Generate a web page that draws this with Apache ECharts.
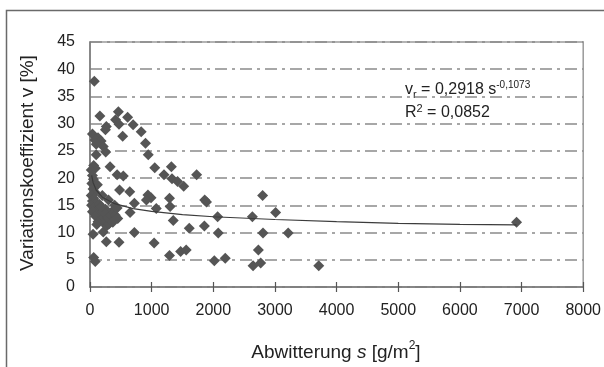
<!DOCTYPE html>
<html><head><meta charset="utf-8">
<script src="https://cdn.jsdelivr.net/npm/echarts/dist/echarts.min.js"></script>
<style>html,body{margin:0;padding:0;background:#fff}#c{width:604px;height:367px}</style>
</head><body><div id="c"></div>
<script>
// Abwitterung s [g/m2] (x) and Variationskoeffizient v [%] (y)
const abwitterung = [
  70,160,460,610,415,470,265,250,700,830,40,130,80,180,100,530,900,215,100,255,945,
  60,86,325,1050,1320,440,540,1200,1330,1420,1730,1520,480,645,940,990,915,1290,1300,
  1860,1890,2800,720,650,1075,1350,1610,1855,2070,2080,2634,3011,2806,3215,2731,2645,
  2769,3710,6919,2016,2194,1290,1470,1560,1040,470,265,215,50,720,60,85,
  20,40,55,30,120,50,80,20,60,40,100,25,70,120,40,160,90,190,130,230,270,310,350,280,
  320,370,410,450,400,440,250,200,300,150,110,370,220,180
];
const variationskoeffizient = [
  37.8,31.4,32.2,31.2,30.7,29.9,29.5,28.9,29.8,28.5,28.1,27.4,27.0,26.8,26.2,27.7,26.4,25.8,24.3,24.8,24.3,
  22.3,21.8,22.1,21.9,22.1,20.6,20.4,20.6,19.9,19.4,20.6,18.5,17.8,17.5,16.9,16.4,16.0,16.3,14.8,
  16.0,15.6,16.8,15.4,13.7,14.4,12.2,10.8,11.2,12.9,9.9,12.9,13.7,9.9,9.9,6.8,3.9,
  4.4,3.9,11.9,4.8,5.3,5.8,6.5,6.8,8.1,8.2,8.3,10.1,9.7,10.0,5.4,4.7,
  21.5,20.5,19.8,19.0,18.8,18.0,17.4,16.8,16.3,15.8,15.5,15.0,14.5,14.0,13.8,13.2,13.0,12.5,12.0,11.7,11.2,11.6,12.2,12.8,
  13.5,14.0,13.2,12.6,15.0,14.5,14.3,16.8,16.0,15.2,11.5,11.9,13.8,14.8
];
// Trendline (power fit)
const trendS = [27, 50, 100, 200, 400, 700, 1000, 1500, 2000, 3000, 4000, 5000, 6000, 6919];
const trendV = [20.5, 19.2, 17.8, 16.5, 15.3, 14.4, 13.9, 13.3, 12.9, 12.4, 12.0, 11.7, 11.5, 11.4];

const xAxisMin = 0, xAxisMax = 8000, xAxisStep = 1000;
const yAxisMin = 0, yAxisMax = 45, yAxisStep = 5;
const xTitle = ['Abwitterung ', 's', ' [g/m', '2', ']'];
const yTitle = 'Variationskoeffizient v [%]';
const equation = ['v', 'r', ' = 0,2918 s', '-0,1073'];
const rSquared = ['R', '2', ' = 0,0852'];

const FONT = '"Liberation Sans", Arial, sans-serif';
const chart = echarts.init(document.getElementById('c'), null, {renderer: 'canvas'});
const scatterData = abwitterung.map((s, i) => [s, variationskoeffizient[i]]);
const trendData = trendS.map((s, i) => [s, trendV[i]]);

chart.setOption({
  animation: false,
  backgroundColor: '#fff',
  textStyle: {fontFamily: FONT},
  grid: {left: 90, right: 18, top: 42, bottom: 80, show: true, borderColor: '#9a9a9a', borderWidth: 1.5, backgroundColor: 'transparent'},
  xAxis: [{
    type: 'value', min: xAxisMin, max: xAxisMax, interval: xAxisStep, position: 'bottom',
    axisLine: {show: true, lineStyle: {color: '#7a7a7a', width: 1.5}},
    axisTick: {show: true, length: 5, lineStyle: {color: '#555', width: 1.2}},
    axisLabel: {color: '#222', fontSize: 16, fontFamily: FONT, margin: 16, formatter: v => String(v)},
    splitLine: {show: false}
  }, {
    type: 'value', min: xAxisMin, max: xAxisMax, interval: xAxisStep, position: 'bottom', offset: 0,
    axisLine: {show: false},
    axisTick: {show: true, inside: true, length: 5, lineStyle: {color: '#555', width: 1.2}},
    axisLabel: {show: false},
    splitLine: {show: false}
  }],
  yAxis: {
    type: 'value', min: yAxisMin, max: yAxisMax, interval: yAxisStep,
    axisLine: {show: true, lineStyle: {color: '#7a7a7a', width: 1.5}},
    axisTick: {show: false},
    axisLabel: {color: '#222', fontSize: 16, fontFamily: FONT, margin: 15},
    splitLine: {show: true, lineStyle: {color: '#8a8a8a', width: 1.5, type: [12, 5, 3, 5]}}
  },
  graphic: [
    {type: 'rect', shape: {x: 6.5, y: 10.5, width: 700, height: 500}, style: {fill: 'none', stroke: '#6a6a6a', lineWidth: 1.5}, silent: true, z: -10},
    {type: 'text', x: 28, y: 163, rotation: Math.PI / 2,
      style: {text: yTitle, font: '19px ' + FONT, fill: '#222', align: 'center', verticalAlign: 'middle'}},
    {type: 'text', x: 336, y: 351,
      style: {
        text: '{a|' + xTitle[0] + '}{i|' + xTitle[1] + '}{a|' + xTitle[2] + '}{sup|' + xTitle[3] + '}{a|' + xTitle[4] + '}',
        align: 'center', verticalAlign: 'middle',
        rich: {
          a: {fontSize: 19, fontFamily: FONT, fill: '#222', lineHeight: 23, verticalAlign: 'bottom'},
          i: {fontSize: 19, fontFamily: FONT, fontStyle: 'italic', fill: '#222', lineHeight: 23, verticalAlign: 'bottom'},
          sup: {fontSize: 12, fontFamily: FONT, fill: '#222', lineHeight: 23, verticalAlign: 'top'}
        }
      }},
    {type: 'text', x: 405, y: 90,
      style: {
        text: '{a|' + equation[0] + '}{sub|' + equation[1] + '}{a|' + equation[2] + '}{sup|' + equation[3] + '}',
        align: 'left', verticalAlign: 'middle',
        rich: {
          a: {fontSize: 16, fontFamily: FONT, fill: '#222', lineHeight: 20, verticalAlign: 'middle'},
          sub: {fontSize: 11, fontFamily: FONT, fill: '#222', lineHeight: 20, verticalAlign: 'bottom', padding: [6, 0, 0, 0]},
          sup: {fontSize: 10, fontFamily: FONT, fill: '#222', lineHeight: 20, verticalAlign: 'top', padding: [0, 0, 6, 0]}
        }
      }},
    {type: 'text', x: 405, y: 113,
      style: {
        text: '{a|' + rSquared[0] + '}{sup|' + rSquared[1] + '}{a|' + rSquared[2] + '}',
        align: 'left', verticalAlign: 'middle',
        rich: {
          a: {fontSize: 16, fontFamily: FONT, fill: '#222', lineHeight: 20, verticalAlign: 'middle'},
          sup: {fontSize: 11, fontFamily: FONT, fill: '#222', lineHeight: 20, verticalAlign: 'top'}
        }
      }}
  ],
  series: [{
    type: 'scatter', data: scatterData, symbol: 'diamond', symbolSize: 11,
    itemStyle: {color: '#555555', opacity: 1}, z: 3
  }, {
    type: 'line', data: trendData, showSymbol: false, smooth: false,
    lineStyle: {color: '#3c3c3c', width: 1.2}, z: 4
  }]
});
</script></body></html>
